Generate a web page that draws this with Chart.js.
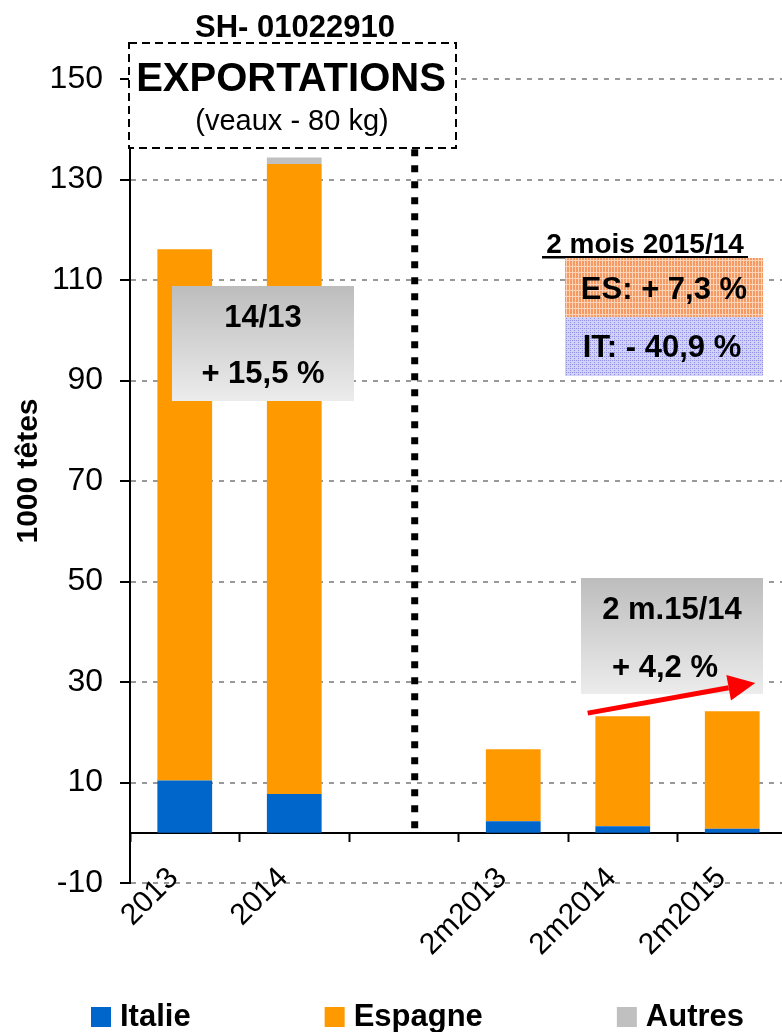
<!DOCTYPE html>
<html>
<head>
<meta charset="utf-8">
<script src="https://cdn.jsdelivr.net/npm/chart.js@4"></script>
<style>
  html, body { margin: 0; padding: 0; background: #fff; overflow: hidden; }
  #wrap { width: 787px; height: 1032px; }
</style>
</head>
<body>
<div id="wrap"><canvas id="chart" width="787" height="1032"></canvas></div>
<script>
// DATA
const categories = ["2013", "2014", "", "2m2013", "2m2014", "2m2015"];
const italie = [10.4, 7.7, null, 2.3, 1.3, 0.8];
const espagne = [105.7, 125.4, null, 14.3, 21.9, 23.4];
const autres = [0, 1.3, null, 0, 0, 0];
const yTicks = [-10, 10, 30, 50, 70, 90, 110, 130, 150];

const FONT = "'Liberation Sans', Arial, sans-serif";

function makePattern(base, light, size, draw) {
    const c = document.createElement("canvas");
    c.width = size;
    c.height = size;
    const g = c.getContext("2d");
    g.fillStyle = base;
    g.fillRect(0, 0, size, size);
    g.fillStyle = light;
    draw(g);
    return c;
}

const orangeTile = makePattern("#f59a62", "#fbd3b8", 6, (g) => {
    g.fillRect(0, 2, 6, 1);
    g.fillRect(2, 0, 1, 6);
    g.fillRect(5, 0, 1, 6);
});
const blueTile = makePattern("#d2d2f7", "#8f8fe6", 4, (g) => {
    g.fillRect(0, 0, 1, 1);
    g.fillRect(2, 2, 1, 1);
    g.fillRect(2, 0, 1, 1);
});

function grayBox(ctx, x, y, w, h) {
    const grd = ctx.createLinearGradient(0, y, 0, y + h);
    grd.addColorStop(0, "#bdbdbd");
    grd.addColorStop(1, "#ececec");
    ctx.fillStyle = grd;
    ctx.fillRect(x, y, w, h);
}

function text(ctx, str, x, y, size, bold, align) {
    ctx.font = (bold ? "bold " : "") + size + "px " + FONT;
    ctx.fillStyle = "#000";
    ctx.textAlign = align || "center";
    ctx.textBaseline = "middle";
    ctx.fillText(str, x, y);
}

// separator, notes, title box, axis title, legend
const extras = {
    id: "extras",
    afterDatasetsDraw(chart) {
        const ctx = chart.ctx;
        const x = chart.scales.x;
        const y = chart.scales.y;
        ctx.save();

        // dotted separator
        ctx.strokeStyle = "#000";
        ctx.lineWidth = 7;
        ctx.setLineDash([7, 9]);
        ctx.beginPath();
        ctx.moveTo(x.getPixelForValue(2.1), y.getPixelForValue(136));
        ctx.lineTo(x.getPixelForValue(2.1), y.getPixelForValue(0.6));
        ctx.stroke();
        ctx.setLineDash([]);

        // 14/13 box
        grayBox(ctx, 172, 286, 182, 115);
        text(ctx, "14/13", 263, 318, 31, true);
        text(ctx, "+ 15,5 %", 263, 374, 31, true);

        // 2 mois 2015/14
        text(ctx, "2 mois 2015/14", 645, 245, 28, true);
        ctx.fillRect(542, 256, 206, 2.5);
        ctx.fillStyle = ctx.createPattern(orangeTile, "repeat");
        ctx.fillRect(565, 258, 198, 59);
        ctx.fillStyle = ctx.createPattern(blueTile, "repeat");
        ctx.fillRect(565, 317, 198, 59);
        text(ctx, "ES: + 7,3 %", 664, 290, 31, true);
        text(ctx, "IT: - 40,9 %", 662, 348, 31, true);

        // 2 m.15/14 box
        grayBox(ctx, 581, 578, 182, 116);
        text(ctx, "2 m.15/14", 672, 610, 31, true);
        text(ctx, "+ 4,2 %", 665, 668, 31, true);

        // red arrow
        const ax0 = x.getPixelForValue(3.68), ay0 = y.getPixelForValue(23.8);
        const ax1 = x.getPixelForValue(5.21), ay1 = y.getPixelForValue(29.8);
        const ang = Math.atan2(ay1 - ay0, ax1 - ax0);
        const hl = 27, hw = 13;
        const bx = ax1 - hl * Math.cos(ang), by = ay1 - hl * Math.sin(ang);
        ctx.strokeStyle = "#ff0000";
        ctx.fillStyle = "#ff0000";
        ctx.lineWidth = 5;
        ctx.beginPath();
        ctx.moveTo(ax0, ay0);
        ctx.lineTo(bx, by);
        ctx.stroke();
        ctx.beginPath();
        ctx.moveTo(ax1, ay1);
        ctx.lineTo(bx - hw * Math.sin(ang), by + hw * Math.cos(ang));
        ctx.lineTo(bx + hw * Math.sin(ang), by - hw * Math.cos(ang));
        ctx.closePath();
        ctx.fill();

        // title box
        ctx.fillStyle = "#fff";
        ctx.fillRect(129, 43, 327, 105);
        ctx.strokeStyle = "#000";
        ctx.lineWidth = 2;
        ctx.setLineDash([8, 5]);
        ctx.strokeRect(129, 43, 327, 105);
        ctx.setLineDash([]);
        text(ctx, "SH- 01022910", 295, 28, 31, true);
        text(ctx, "EXPORTATIONS", 291, 80, 40, true);
        text(ctx, "(veaux - 80 kg)", 292, 122, 29, false);

        // y axis title
        ctx.save();
        ctx.translate(29, 471);
        ctx.rotate(-Math.PI / 2);
        text(ctx, "1000 têtes", 0, 0, 30, true);
        ctx.restore();

        // legend
        let lx = 91;
        chart.data.datasets.forEach((ds) => {
            ctx.fillStyle = ds.backgroundColor;
            ctx.fillRect(lx, 1007, 20, 20);
            text(ctx, ds.label, lx + 29, 1017, 31, true, "left");
            lx += 29 + ctx.measureText(ds.label).width + 134;
        });

        ctx.restore();
    },
};

const ctx = document.getElementById("chart");

const chart = new Chart(ctx, {
    type: "bar",
    data: {
        labels: categories,
        datasets: [
            { label: "Italie", data: italie, backgroundColor: "#0066cc" },
            { label: "Espagne", data: espagne, backgroundColor: "#ff9900" },
            { label: "Autres", data: autres, backgroundColor: "#c0c0c0" },
        ],
    },
    options: {
        responsive: false,
        animation: false,
        layout: {
            padding: { top: 79, bottom: 149, left: 0, right: 0 },
        },
        datasets: {
            bar: {
                categoryPercentage: 1,
                barPercentage: 0.5,
                borderWidth: 0,
            },
        },
        plugins: {
            legend: { display: false },
            tooltip: { enabled: false },
        },
        scales: {
            x: {
                stacked: true,
                position: { y: 0 },
                afterFit: (s) => {
                    s.height = 0;
                },
                grid: {
                    offset: true,
                    drawOnChartArea: false,
                    tickLength: 8,
                    tickColor: "#000",
                    tickWidth: 2,
                },
                border: { color: "#000", width: 2 },
                ticks: {
                    minRotation: 45,
                    maxRotation: 45,
                    autoSkip: false,
                    padding: 20,
                    labelOffset: -11,
                    color: "#000",
                    font: { family: FONT, size: 30 },
                },
            },
            y: {
                stacked: true,
                min: -10,
                max: 150,
                afterBuildTicks: (s) => {
                    s.ticks = yTicks.map((v) => ({ value: v }));
                },
                afterFit: (s) => {
                    s.width = 130;
                },
                grid: {
                    color: "#999",
                    lineWidth: 2,
                    tickLength: 10,
                    tickColor: "#000",
                    tickWidth: 2,
                    tickBorderDash: [],
                },
                border: { color: "#000", width: 2, dash: [5, 6] },
                ticks: {
                    padding: 17,
                    color: "#000",
                    font: { family: FONT, size: 32 },
                },
            },
        },
    },
    plugins: [extras],
});
</script>
</body>
</html>
